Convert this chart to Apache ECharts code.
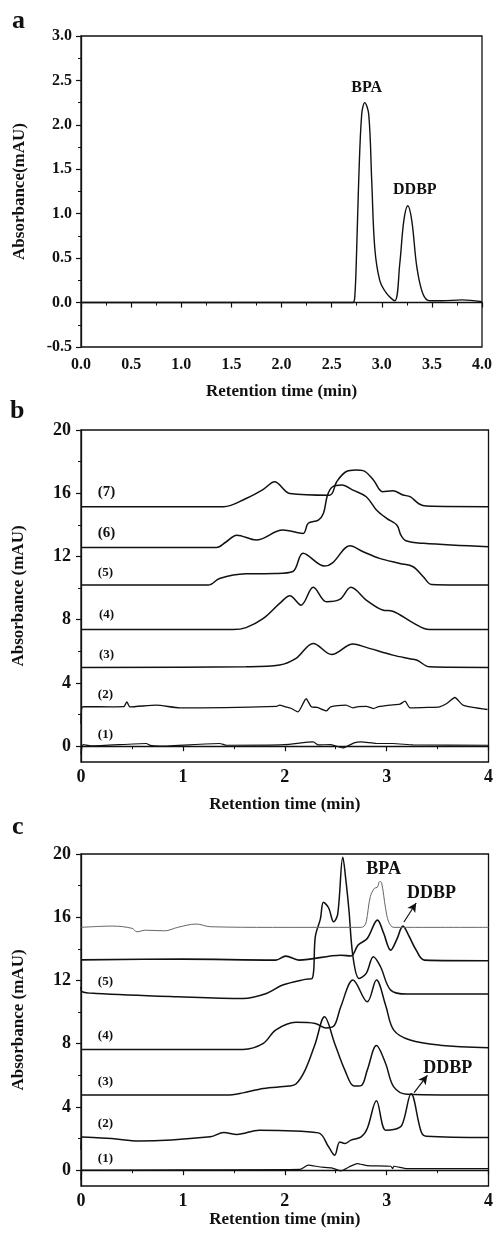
<!DOCTYPE html>
<html>
<head>
<meta charset="utf-8">
<script src="https://cdn.jsdelivr.net/npm/echarts@6/dist/echarts.min.js"></script>
<style>
  html, body { margin: 0; padding: 0; background: #fff; }
  #chart { width: 496px; height: 1238px; }
</style>
</head>
<body>
<div id="chart"></div>
<script>
// panel a: standard mixture
const aTime = [0, 1, 2, 2.5, 2.71, 2.73, 2.75, 2.77, 2.80, 2.83, 2.87, 2.90, 2.93, 2.98, 3.05, 3.13, 3.18, 3.22, 3.26, 3.30, 3.35, 3.41, 3.48, 3.6, 3.8, 4.0]
const aAbs = [0, 0, 0, 0, 0, 0.05, 0.6, 1.37, 2.12, 2.25, 2.12, 1.37, 0.62, 0.25, 0.1, 0.02, 0.44, 0.92, 1.09, 0.92, 0.40, 0.1, 0.02, 0.02, 0.03, 0.01]

// panel b: traces (1)..(7), offset baselines included
const b7Time = [0, 1.40, 1.62, 1.79, 1.90, 2.05, 2.44, 2.51, 2.60, 2.70, 2.77, 2.87, 2.96, 3.06, 3.16, 3.23, 3.32, 3.39, 4.0]
const b7Abs = [15.15, 15.15, 15.67, 16.25, 16.73, 15.99, 15.88, 16.73, 17.36, 17.47, 17.43, 16.84, 16.1, 16.16, 15.89, 15.78, 15.32, 15.19, 15.15]
const b6Time = [0, 1.33, 1.42, 1.53, 1.72, 1.98, 2.18, 2.23, 2.33, 2.38, 2.42, 2.47, 2.56, 2.67, 2.80, 2.90, 3.00, 3.10, 3.14, 3.19, 3.36, 4.0]
const b6Abs = [12.57, 12.57, 12.9, 13.35, 13.04, 13.67, 13.46, 14.1, 14.3, 14.73, 15.89, 16.41, 16.52, 16.2, 15.78, 14.94, 14.41, 13.99, 13.35, 12.99, 12.83, 12.61]
const b5Time = [0, 1.25, 1.36, 1.62, 1.9, 2.08, 2.18, 2.39, 2.47, 2.64, 2.77, 2.93, 3.13, 3.26, 3.36, 3.44, 4.0]
const b5Abs = [10.19, 10.19, 10.61, 10.9, 10.92, 11.05, 12.2, 11.39, 11.6, 12.68, 12.30, 11.88, 11.56, 11.35, 10.72, 10.23, 10.19]
const b4Time = [0, 1.49, 1.62, 1.79, 1.95, 2.05, 2.16, 2.28, 2.41, 2.54, 2.65, 2.80, 2.96, 3.06, 3.26, 3.42, 4.0]
const b4Abs = [7.38, 7.38, 7.5, 8.08, 9.03, 9.52, 8.92, 10.05, 9.13, 9.28, 10.05, 9.24, 8.61, 8.54, 7.8, 7.38, 7.38]
const b3Time = [0, 1.62, 1.95, 2.11, 2.28, 2.46, 2.67, 2.80, 3.06, 3.24, 3.30, 3.42, 4.0]
const b3Abs = [4.98, 5.02, 5.13, 5.55, 6.5, 5.80, 6.46, 6.25, 5.76, 5.52, 5.44, 5.02, 4.98]
const b2Time = [0, 0.02, 0.3, 0.42, 0.45, 0.48, 0.74, 0.97, 1.92, 1.95, 2.0, 2.06, 2.13, 2.21, 2.26, 2.32, 2.41, 2.45, 2.60, 2.67, 2.72, 2.80, 2.87, 2.92, 3.03, 3.13, 3.18, 3.23, 3.40, 3.52, 3.59, 3.67, 3.75, 3.99]
const b2Abs = [1.4, 2.5, 2.49, 2.5, 2.80, 2.49, 2.6, 2.42, 2.52, 2.6, 2.5, 2.4, 2.17, 3.0, 2.5, 2.45, 2.24, 2.49, 2.6, 2.42, 2.5, 2.52, 2.38, 2.5, 2.6, 2.66, 2.85, 2.42, 2.45, 2.49, 2.7, 3.08, 2.6, 2.32]
const b1Time = [0, 0.02, 0.1, 0.64, 0.68, 0.77, 1.36, 1.43, 2.0, 2.28, 2.33, 2.45, 2.57, 2.68, 2.75, 2.90, 3.06, 3.26, 4.0]
const b1Abs = [-0.5, 0.1, 0.02, 0.17, 0.05, 0.0, 0.17, 0.06, 0.1, 0.27, 0.08, 0.1, -0.11, 0.21, 0.27, 0.17, 0.17, 0.08, 0.06]

// panel c: traces (1)..(5) plus two upper unlabeled traces
const c7Time = [0, 0.31, 0.50, 0.55, 0.63, 0.82, 0.95, 1.13, 1.27, 1.88, 2.75, 2.78, 2.80, 2.84, 2.88, 2.91, 2.93, 2.95, 2.99, 3.02, 3.07, 4.0]
const c7Abs = [15.36, 15.44, 15.3, 15.08, 15.18, 15.14, 15.36, 15.57, 15.4, 15.36, 15.36, 15.44, 15.71, 17.3, 17.83, 17.9, 18.25, 18.2, 16.56, 15.71, 15.36, 15.36]
const c6Time = [0, 1.0, 1.91, 2.01, 2.14, 2.55, 2.65, 2.72, 2.81, 2.91, 2.97, 3.04, 3.10, 3.16, 3.22, 3.29, 3.37, 4.0]
const c6Abs = [13.3, 13.35, 13.29, 13.54, 13.29, 13.6, 13.55, 14.24, 14.66, 15.82, 15.0, 13.92, 14.6, 15.44, 14.8, 13.92, 13.29, 13.25]
const c5Time = [0, 0.01, 0.15, 0.95, 1.59, 1.82, 1.98, 2.20, 2.27, 2.30, 2.35, 2.38, 2.43, 2.48, 2.52, 2.57, 2.60, 2.63, 2.67, 2.73, 2.80, 2.87, 2.94, 3.04, 3.20, 4.0]
const c5Abs = [11.6, 11.3, 11.18, 10.97, 10.86, 11.18, 11.71, 12.07, 12.13, 14.77, 15.9, 16.95, 16.6, 15.71, 16.2, 19.8, 18.35, 16.46, 13.5, 12.13, 12.45, 13.5, 12.87, 11.39, 11.14, 11.14]
const c4Time = [0, 1.59, 1.79, 1.91, 2.11, 2.30, 2.40, 2.48, 2.55, 2.67, 2.81, 2.90, 2.99, 3.07, 3.23, 3.52, 4.0]
const c4Abs = [7.64, 7.64, 8.02, 8.86, 9.35, 9.28, 9.0, 9.1, 10.34, 12.03, 10.65, 12.03, 10.44, 8.86, 8.23, 7.91, 7.75]
const c3Time = [0, 1.43, 1.59, 1.79, 2.04, 2.11, 2.20, 2.30, 2.39, 2.49, 2.59, 2.68, 2.75, 2.81, 2.90, 2.99, 3.07, 3.20, 4.0]
const c3Abs = [4.75, 4.75, 4.89, 5.17, 5.32, 5.45, 6.33, 8.02, 9.70, 8.02, 6.33, 5.32, 5.35, 6.33, 7.88, 6.75, 5.27, 4.81, 4.75]
const c2Time = [0, 0.01, 0.3, 0.57, 1.27, 1.40, 1.53, 1.75, 2.33, 2.43, 2.49, 2.54, 2.59, 2.65, 2.75, 2.81, 2.90, 2.99, 3.07, 3.15, 3.24, 3.34, 3.39, 4.0]
const c2Abs = [1.3, 2.1, 2.0, 1.84, 2.11, 2.38, 2.26, 2.53, 2.36, 1.48, 0.95, 1.79, 1.69, 1.90, 2.11, 2.64, 4.39, 2.53, 2.57, 2.85, 4.83, 2.42, 2.15, 2.07]
const c1Time = [0, 0.01, 2.15, 2.23, 2.35, 2.46, 2.55, 2.63, 2.71, 2.81, 3.04, 3.06, 3.07, 3.20, 4.0]
const c1Abs = [-0.6, 0.0, 0.05, 0.32, 0.2, 0.15, -0.04, 0.2, 0.42, 0.29, 0.25, 0.1, 0.25, 0.1, 0.1]

// tick labels
const bcYTicks = [0, 4, 8, 12, 16, 20]
const bcYMinor = [2, 6, 10, 14, 18]

// annotations [text, x, y, size] in data space
const bLabels = [['(7)', 0.25, 16.1, 15], ['(6)', 0.25, 13.5, 15], ['(5)', 0.24, 10.95, 13], ['(4)', 0.25, 8.3, 13], ['(3)', 0.25, 5.76, 13], ['(2)', 0.24, 3.23, 13], ['(1)', 0.24, 0.7, 13]]
const cLabels = [['(5)', 0.24, 11.9, 13], ['(4)', 0.24, 8.48, 13], ['(3)', 0.24, 5.57, 13], ['(2)', 0.24, 2.97, 13], ['(1)', 0.24, 0.76, 13]]
const aPeakLabels = [['BPA', 2.85, 2.42], ['DDBP', 3.33, 1.27]]
const cPeakLabels = [['BPA', 2.97, 19.0], ['DDBP', 3.44, 17.5], ['DDBP', 3.6, 6.45]]

const FONT = '"Liberation Serif", "DejaVu Serif", serif'
const chart = echarts.init(document.getElementById('chart'))

function zip(t, v) {
  return t.map((x, i) => [x, v[i]])
}

function trace(t, v, xi, yi, extra) {
  return Object.assign({
    type: 'line',
    xAxisIndex: xi,
    yAxisIndex: yi,
    data: zip(t, v),
    showSymbol: false,
    smooth: 0.35,
    lineStyle: { color: '#111', width: 1.5 },
    silent: true
  }, extra || {})
}

function arrow(from, to) {
  return {
    silent: true,
    symbol: ['none', 'arrow'],
    symbolSize: [7, 9],
    label: { show: false },
    lineStyle: { color: '#111', width: 1.2, type: 'solid' },
    data: [[{ coord: from }, { coord: to }]]
  }
}

const tickLabel = (size) => ({ fontFamily: FONT, fontWeight: 'bold', fontSize: size, color: '#111' })
const axisLine = { show: true, lineStyle: { color: '#111', width: 1.3 } }
const gridBox = { show: true, borderColor: '#111', borderWidth: 1.3, backgroundColor: 'transparent' }

function xAxisFor(gi, interval, fmt, gap, margin) {
  return {
    type: 'value', gridIndex: gi, min: 0, max: 4, interval: interval,
    name: 'Retention time (min)', nameLocation: 'middle', nameGap: gap,
    nameTextStyle: { fontFamily: FONT, fontWeight: 'bold', fontSize: 17, color: '#111', verticalAlign: 'top' },
    axisLine: axisLine,
    axisTick: { show: true, length: 5, lineStyle: { color: '#111', width: 1.2 } },
    minorTick: { show: true, splitNumber: 2, length: 3, lineStyle: { color: '#111', width: 1 } },
    axisLabel: Object.assign(tickLabel(gi === 0 ? 16 : 18), { margin: margin, formatter: fmt }),
    splitLine: { show: false }
  }
}

function yAxisBC(gi) {
  return {
    type: 'value', gridIndex: gi, min: -1, max: 20,
    name: 'Absorbance (mAU)', nameLocation: 'middle', nameGap: 54,
    nameTextStyle: { fontFamily: FONT, fontWeight: 'bold', fontSize: 17, color: '#111' },
    axisLine: axisLine,
    axisTick: { show: true, length: 5, customValues: bcYTicks, lineStyle: { color: '#111', width: 1.2 } },
    axisLabel: Object.assign(tickLabel(18), { margin: 10, customValues: bcYTicks }),
    splitLine: { show: false }
  }
}

function yMinorBC(gi) {
  return {
    type: 'value', gridIndex: gi, min: -1, max: 20, position: 'left',
    axisLine: { show: false },
    axisTick: { show: true, length: 3, customValues: bcYMinor, lineStyle: { color: '#111', width: 1 } },
    axisLabel: { show: false },
    splitLine: { show: false }
  }
}

const option = {
  animation: false,
  backgroundColor: '#fff',
  grid: [
    Object.assign({ left: 81, top: 36, width: 401, height: 311 }, gridBox),
    Object.assign({ left: 81, top: 430, width: 408, height: 332 }, gridBox),
    Object.assign({ left: 81, top: 854, width: 416, height: 332 }, gridBox)
  ],
  xAxis: [
    xAxisFor(0, 0.5, (v) => v.toFixed(1), 36, 10),
    xAxisFor(1, 1, (v) => String(v), 34, 6),
    xAxisFor(2, 1, (v) => String(v), 24, 6)
  ],
  yAxis: [
    {
      type: 'value', gridIndex: 0, min: -0.5, max: 3.0, interval: 0.5,
      name: 'Absorbance(mAU)', nameLocation: 'middle', nameGap: 53,
      nameTextStyle: { fontFamily: FONT, fontWeight: 'bold', fontSize: 17, color: '#111' },
      axisLine: axisLine,
      axisTick: { show: true, length: 5, lineStyle: { color: '#111', width: 1.2 } },
      minorTick: { show: true, splitNumber: 2, length: 3, lineStyle: { color: '#111', width: 1 } },
      axisLabel: Object.assign(tickLabel(16), { margin: 9, formatter: (v) => v.toFixed(1) }),
      splitLine: { show: false }
    },
    yAxisBC(1),
    yAxisBC(2),
    yMinorBC(1),
    yMinorBC(2)
  ],
  series: [
    trace(aTime, aAbs, 0, 0, { lineStyle: { color: '#111', width: 1.4 } }),

    trace(b1Time, b1Abs, 1, 1, { smooth: 0.2, lineStyle: { color: '#111', width: 1.2 } }),
    trace(b2Time, b2Abs, 1, 1, { smooth: 0.2, lineStyle: { color: '#111', width: 1.3 } }),
    trace(b3Time, b3Abs, 1, 1),
    trace(b4Time, b4Abs, 1, 1),
    trace(b5Time, b5Abs, 1, 1),
    trace(b6Time, b6Abs, 1, 1),
    trace(b7Time, b7Abs, 1, 1),

    trace(c1Time, c1Abs, 2, 2, { smooth: 0.2, lineStyle: { color: '#111', width: 1.2 } }),
    trace(c2Time, c2Abs, 2, 2, { markLine: arrow([3.27, 4.9], [3.40, 6.0]) }),
    trace(c3Time, c3Abs, 2, 2),
    trace(c4Time, c4Abs, 2, 2),
    trace(c5Time, c5Abs, 2, 2),
    trace(c6Time, c6Abs, 2, 2, { lineStyle: { color: '#111', width: 1.6 }, markLine: arrow([3.17, 15.7], [3.29, 16.9]) }),
    trace(c7Time, c7Abs, 2, 2, { lineStyle: { color: '#666', width: 1 } })
  ]
}

chart.setOption(option)

// text annotations anchored in data space
const graphics = []
function addText(text, gi, x, y, size, align) {
  const p = chart.convertToPixel({ xAxisIndex: gi, yAxisIndex: gi }, [x, y])
  graphics.push({
    type: 'text', x: p[0], y: p[1], silent: true,
    style: { text: text, fontFamily: FONT, fontWeight: 'bold', fontSize: size, fill: '#111', align: align || 'center', verticalAlign: 'middle' }
  })
}
bLabels.forEach((l) => addText(l[0], 1, l[1], l[2], l[3]))
cLabels.forEach((l) => addText(l[0], 2, l[1], l[2], l[3]))
aPeakLabels.forEach((l) => addText(l[0], 0, l[1], l[2], 16))
cPeakLabels.forEach((l) => addText(l[0], 2, l[1], l[2], 18))

// panel letters
graphics.push(
  { type: 'text', left: 12, top: 8, silent: true, style: { text: 'a', fontFamily: FONT, fontWeight: 'bold', fontSize: 26, fill: '#111' } },
  { type: 'text', left: 10, top: 398, silent: true, style: { text: 'b', fontFamily: FONT, fontWeight: 'bold', fontSize: 26, fill: '#111' } },
  { type: 'text', left: 12, top: 814, silent: true, style: { text: 'c', fontFamily: FONT, fontWeight: 'bold', fontSize: 26, fill: '#111' } }
)
chart.setOption({ graphic: graphics })
</script>
</body>
</html>
